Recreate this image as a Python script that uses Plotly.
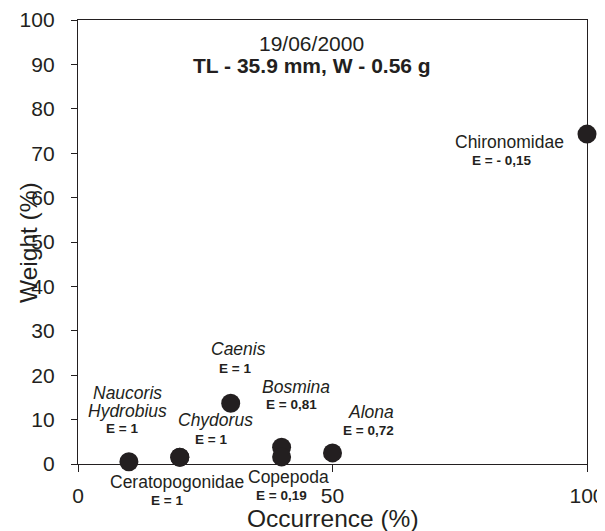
import plotly.graph_objects as go

# ---- data ----
taxa = ["Naucoris\nHydrobius", "Ceratopogonidae", "Chydorus", "Caenis",
        "Bosmina", "Copepoda", "Alona", "Chironomidae"]
italic_name = [True, False, True, True, True, False, True, False]
occurrence = [10, 20, 20, 30, 40, 40, 50, 100]
weight = [0.5, 1.5, 1.5, 13.7, 3.8, 1.6, 2.5, 74.3]
e_values = ["1", "1", "1", "1", "0,81", "0,19", "0,72", "- 0,15"]
x_ticks = [0, 50, 100]
y_ticks = list(range(0, 101, 10))
date_text = "19/06/2000"
fish_text = "TL - 35.9 mm, W - 0.56 g"
x_title = "Occurrence (%)"
y_title = "Weight (%)"

# ---- label offsets in pixels relative to each point (dx right, dy up) ----
name_off = [(-1, 59.9), (-2.5, -24.7), (35.7, 36.9), (7.9, 54.4),
            (14, 60.1), (7, -20.1), (38.4, 40.9), (-77.3, -8.1)]
e_off = [(-7, 32.8), (-13, -42.7), (31.3, 17.6), (4.4, 35.1),
         (9.9, 42.4), (0.2, -38.1), (35.7, 22.5), (-85.7, -26.8)]

FONT = "Liberation Sans, Arial, Helvetica, sans-serif"
INK = "#231f20"

# page body has an 8px default margin; figure is sized to fill the rest
OFF = 8
W, H = 605 - OFF, 531 - OFF
# plot area in page pixels
PL, PR, PT, PB = 78, 587, 20, 464
L, R, T, B = PL - OFF, (605 - PR), PT - OFF, (531 - PB)
PW, PH = W - L - R, H - T - B


def px_x(px):
    return (px - OFF - L) / PW


def px_y(py):
    return (H - B - (py - OFF)) / PH


fig = go.Figure()
fig.add_trace(go.Scatter(
    x=occurrence, y=weight, mode="markers",
    marker=dict(size=19, color=INK, line=dict(width=0)),
    cliponaxis=False, showlegend=False, hoverinfo="skip",
))

annotations = []
LINE = 17.7
for i, name in enumerate(taxa):
    lines = name.split("\n")
    n = len(lines)
    dx, dy = name_off[i]
    for k, ln in enumerate(lines):
        shift = dy + (n - 1) / 2 * LINE - k * LINE
        txt = f"<i>{ln}</i>" if italic_name[i] else ln
        annotations.append(dict(
            x=occurrence[i], y=weight[i], xref="x", yref="y",
            text=txt, showarrow=False, xanchor="center", yanchor="middle",
            xshift=dx, yshift=shift,
            font=dict(family=FONT, size=17.5, color=INK),
        ))
    edx, edy = e_off[i]
    annotations.append(dict(
        x=occurrence[i], y=weight[i], xref="x", yref="y",
        text=f"<b>E = {e_values[i]}</b>", showarrow=False,
        xanchor="center", yanchor="middle", xshift=edx, yshift=edy,
        font=dict(family=FONT, size=13.5, color=INK),
    ))

# title lines
annotations.append(dict(
    x=px_x(311.5), y=px_y(43.7), xref="paper", yref="paper",
    text=date_text, showarrow=False, xanchor="center", yanchor="middle",
    font=dict(family=FONT, size=21, color=INK)))
annotations.append(dict(
    x=px_x(311.5), y=px_y(65.3), xref="paper", yref="paper",
    text=f"<b>{fish_text}</b>", showarrow=False, xanchor="center", yanchor="middle",
    font=dict(family=FONT, size=21, color=INK)))

# axis titles
annotations.append(dict(
    x=px_x(332.5), y=px_y(518), xref="paper", yref="paper",
    text=x_title, showarrow=False, xanchor="center", yanchor="middle",
    font=dict(family=FONT, size=24.5, color=INK)))
annotations.append(dict(
    x=px_x(28), y=px_y(243), xref="paper", yref="paper",
    text=y_title, showarrow=False, xanchor="center", yanchor="middle",
    textangle=-90,
    font=dict(family=FONT, size=24.5, color=INK)))

fig.update_layout(
    width=W, height=H,
    margin=dict(l=L, r=R, t=T, b=B, autoexpand=False),
    paper_bgcolor="white", plot_bgcolor="white",
    font=dict(family=FONT, color=INK),
    annotations=annotations,
    xaxis=dict(
        range=[0, 100], tickvals=x_ticks, ticktext=[str(v) for v in x_ticks],
        ticks="outside", ticklen=7, tickwidth=1, tickcolor=INK,
        showline=True, linecolor=INK, linewidth=1.3, mirror=True,
        showgrid=False, zeroline=False, automargin=False,
        tickfont=dict(family=FONT, size=21, color=INK),
        ticklabelstandoff=6,
    ),
    yaxis=dict(
        range=[0, 100], tickvals=y_ticks, ticktext=[str(v) for v in y_ticks],
        ticks="outside", ticklen=6, tickwidth=1, tickcolor=INK,
        showline=True, linecolor=INK, linewidth=1.3, mirror=True,
        showgrid=False, zeroline=False, automargin=False,
        tickfont=dict(family=FONT, size=21, color=INK),
        ticklabelstandoff=12,
    ),
)

fig.write_html("out.html")
